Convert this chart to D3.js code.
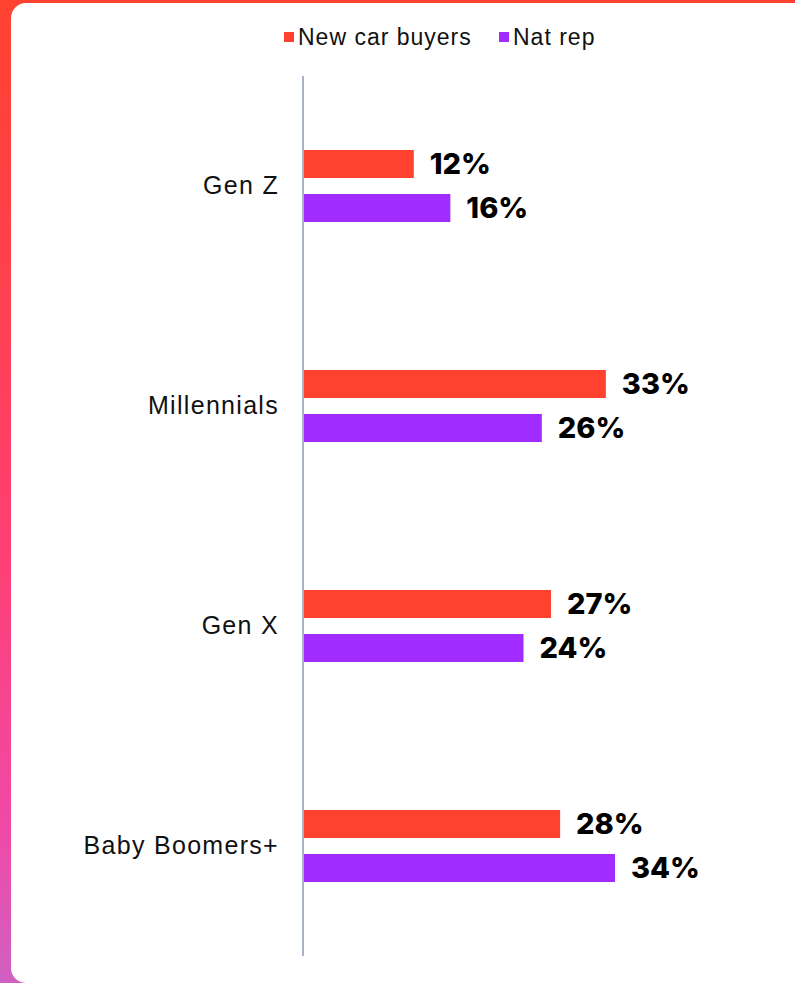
<!DOCTYPE html>
<html>
<head>
<meta charset="utf-8">
<script src="https://cdn.jsdelivr.net/npm/d3@7/dist/d3.min.js"></script>
<style>
  html, body { margin: 0; padding: 0; background: #fff; }
  svg { display: block; }
</style>
</head>
<body>
<svg id="chart" width="795" height="983"></svg>
<script>
// Share of each generation, by audience
const categories = ["Gen Z", "Millennials", "Gen X", "Baby Boomers+"];
const seriesNames = ["New car buyers", "Nat rep"];
const newCarBuyers = [12, 33, 27, 28];
const natRep = [16, 26, 24, 34];
const seriesColors = ["#ff412f", "#a12cff"];

const W = 795, H = 983;
const svg = d3.select("#chart");

// Frame: gradient backdrop with a white rounded panel on top
const defs = svg.append("defs");
const grad = defs.append("linearGradient")
  .attr("id", "frameGrad").attr("x1", 0).attr("y1", 0).attr("x2", 0).attr("y2", 1);
[["0%", "#ff4230"], ["30%", "#ff4050"], ["55%", "#ff3f72"], ["85%", "#ef4aa8"], ["100%", "#cf60c2"]]
  .forEach(([o, c]) => grad.append("stop").attr("offset", o).attr("stop-color", c));

svg.append("rect").attr("width", W).attr("height", H).attr("fill", "url(#frameGrad)");
svg.append("rect")
  .attr("x", 11).attr("y", 3)
  .attr("width", W + 40).attr("height", H - 3)
  .attr("rx", 15).attr("ry", 15)
  .attr("fill", "#ffffff");

// Scales
const x0 = 304;
const x = d3.scaleLinear().domain([0, 34]).range([x0, 615]);
const y = d3.scaleBand().domain(categories).range([76, 956]).paddingInner(0);
const barH = 28, barGap = 16;

const rows = categories.map((c, i) => ({ cat: c, vals: [newCarBuyers[i], natRep[i]] }));

const g = svg.append("g");

// Bars with value labels
rows.forEach(r => {
  const cy = y(r.cat) + y.bandwidth() / 2;
  r.vals.forEach((v, k) => {
    const top = k === 0 ? cy - barGap / 2 - barH : cy + barGap / 2;
    g.append("rect")
      .attr("x", x(0)).attr("y", top)
      .attr("width", x(v) - x(0)).attr("height", barH)
      .attr("fill", seriesColors[k]);
    g.append("text")
      .attr("x", x(v) + 16).attr("y", top + barH / 2)
      .attr("dy", "0.36em")
      .attr("font-family", "Inter, 'Noto Sans', sans-serif")
      .attr("font-weight", 800)
      .attr("font-size", 29)
      .attr("fill", "#000")
      .text(v + "%");
  });
});

// Category axis
const yAxis = d3.axisLeft(y).tickSize(0).tickPadding(24);
const ax = svg.append("g").attr("transform", `translate(${x0 - 1},0)`).call(yAxis);
ax.select(".domain").attr("stroke", "#a8b2c8").attr("stroke-width", 2)
  .attr("d", `M0,${y.range()[0]}V${y.range()[1]}`);
ax.selectAll(".tick text")
  .attr("font-family", "'Liberation Sans', Arial, sans-serif")
  .attr("font-size", 25)
  .attr("letter-spacing", "1.3")
  .attr("fill", "#111");

// Legend
const legend = svg.append("g");
const items = [
  { name: seriesNames[0], color: seriesColors[0], x: 284 },
  { name: seriesNames[1], color: seriesColors[1], x: 499 }
];
items.forEach(it => {
  legend.append("rect").attr("x", it.x).attr("y", 32).attr("width", 10).attr("height", 10).attr("fill", it.color);
  legend.append("text")
    .attr("x", it.x + 14).attr("y", 45)
    .attr("font-family", "'Liberation Sans', Arial, sans-serif")
    .attr("font-size", 23)
    .attr("letter-spacing", "1")
    .attr("fill", "#111")
    .text(it.name);
});
</script>
</body>
</html>
